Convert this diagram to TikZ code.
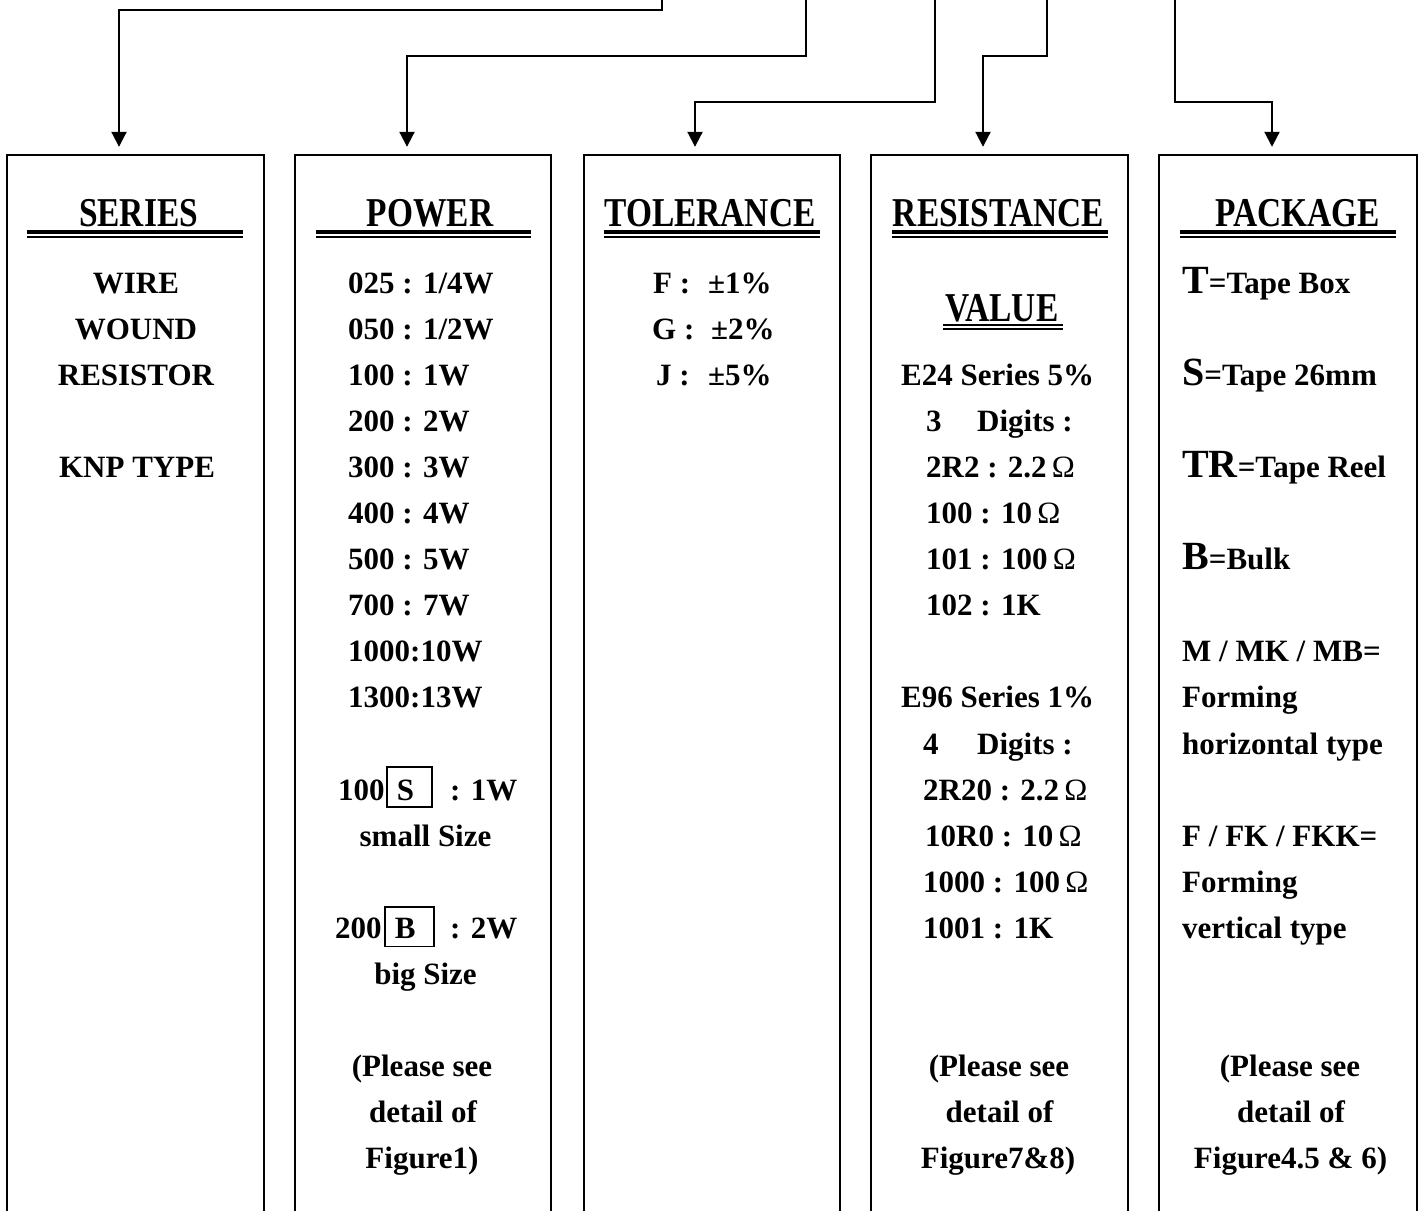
\documentclass[tikz,border=0pt]{standalone}
\usepackage{fontspec}
\setmainfont{Liberation Serif}
\usepackage{graphicx}
\usetikzlibrary{arrows.meta}
\newcommand\bodyfont{\fontsize{31}{31}\selectfont\bfseries}
\newcommand\hdrfont{\fontsize{41}{41}\selectfont\bfseries}
\newcommand\hsq[1]{\scalebox{0.815}[1]{#1}}
\newcommand\ohm{{\mdseries Ω}}
\newcommand\bigltr[1]{{\fontsize{40}{40}\selectfont #1}}
\begin{document}
\begin{tikzpicture}[x=1pt,y=-1pt,
  colbox/.style={draw=none,inner sep=0pt,minimum height=1056pt},
  edge/.style={line width=1.8pt},
  conn/.style={line width=2pt,-{Triangle[length=15pt,width=15pt]},shorten >=8pt},
  body/.style={font=\bodyfont,inner sep=0pt,anchor=base west},
  bodyc/.style={font=\bodyfont,inner sep=0pt,anchor=base},
  hdr/.style={font=\hdrfont,inner sep=0pt,anchor=base},
  ulA/.style={line width=3.2pt},
  ulB/.style={line width=2.3pt},
  ulC/.style={line width=2.1pt},
  keybox/.style={draw,line width=1.6pt,inner sep=0pt,anchor=base west,font=\bodyfont}]
\useasboundingbox (0,0) rectangle (1420,1211);

% column boxes (open at the bottom)
\node[colbox,minimum width=257pt] (b1) at (135.5,683) {};
\node[colbox,minimum width=256pt] (b2) at (423,683) {};
\node[colbox,minimum width=256pt] (b3) at (712,683) {};
\node[colbox,minimum width=257pt] (b4) at (999.5,683) {};
\node[colbox,minimum width=258pt] (b5) at (1288,683) {};
\foreach \b in {b1,b2,b3,b4,b5}
  \draw[edge] (\b.south west) -- (\b.north west) -- (\b.north east) -- (\b.south east);

% connectors
\coordinate (s1) at (662,0);  \coordinate (a1) at (119,0);
\coordinate (s2) at (806,0);  \coordinate (a2) at (407,0);
\coordinate (s3) at (935,0);  \coordinate (a3) at (695,0);
\coordinate (s4) at (1047,0); \coordinate (a4) at (983,0);
\coordinate (s5) at (1175,0); \coordinate (a5) at (1272,0);
\draw[conn] (s1) -- ++(0,10) -| (b1.north -| a1);
\draw[conn] (s2) -- ++(0,56) -| (b2.north -| a2);
\draw[conn] (s3) -- ++(0,102) -| (b3.north -| a3);
\draw[conn] (s4) -- ++(0,56) -| (b4.north -| a4);
\draw[conn] (s5) -- ++(0,102) -| (b5.north -| a5);

% headers
\node[hdr] (h1) at (138.5,226) {\hsq{SERIES}};
\node[hdr] (h2) at (430,226) {\hsq{POWER}};
\node[hdr] (h3) at (710,226) {\hsq{TOLERANCE}};
\node[hdr] (h4) at (998.5,226) {\hsq{RESISTANCE}};
\node[hdr] (h5) at (1297.5,226) {\hsq{PACKAGE}};
\node[hdr] (h4b) at (1002,321) {\hsq{VALUE}};
\foreach \l/\r in {27/243,316/531,604/820,892/1108,1180/1396}{
  \draw[ulA] (\l,232) -- (\r,232);
  \draw[ulB] (\l,237.3) -- (\r,237.3);
}
\draw[ulC] (943,325) -- (1063,325);
\draw[ulC] (943,329.3) -- (1063,329.3);

% SERIES
\node[bodyc] (se1) at (136,293) {WIRE};
\node[bodyc] (se2) at (136,339.1) {WOUND};
\node[bodyc] (se3) at (136,385.2) {RESISTOR};
\node[bodyc] (se4) at (137,477.4) {KNP TYPE};

% POWER
\node[body] (p0) at (348,293) {025 : 1/4W};
\node[body] (p1) at (348,339.1) {050 : 1/2W};
\node[body] (p2) at (348,385.2) {100 : 1W};
\node[body] (p3) at (348,431.3) {200 : 2W};
\node[body] (p4) at (348,477.4) {300 : 3W};
\node[body] (p5) at (348,523.5) {400 : 4W};
\node[body] (p6) at (348,569.6) {500 : 5W};
\node[body] (p7) at (348,615.7) {700 : 7W};
\node[body] (p8) at (348,661.8) {1000:10W};
\node[body] (p9) at (348,707.9) {1300:13W};
\node[body] (p11a) at (338,800.1) {100};
\node[keybox,text height=33pt,text depth=7pt] (p11b) at (386,800.1) {\makebox[45pt][l]{\hspace{10pt}S}};
\node[body] (p11c) at (450,800.1) {: 1W};
\node[bodyc] (p12) at (425.5,846.2) {small Size};
\node[body] (p14a) at (335,938.4) {200};
\node[keybox,text height=31.5pt,text depth=8pt] (p14b) at (384,938.4) {\makebox[49pt][l]{\hspace{10pt}B}};
\node[body] (p14c) at (450,938.4) {: 2W};
\node[bodyc] (p15) at (425.5,984.5) {big Size};
\node[bodyc] (p17) at (422,1076.7) {(Please see};
\node[bodyc] (p18) at (423,1122.8) {detail of};
\node[bodyc] (p19) at (422,1168.9) {Figure1)};

% TOLERANCE
\node[body] (t0a) at (653,293) {F :};
\node[body] (t0b) at (708,293) {±1\%};
\node[body] (t1a) at (652,339.1) {G :};
\node[body] (t1b) at (711,339.1) {±2\%};
\node[body] (t2a) at (656,385.2) {J :};
\node[body] (t2b) at (708,385.2) {±5\%};

% RESISTANCE VALUE
\node[body] (r2) at (901,385.2) {E24 Series 5\%};
\node[body] (r3a) at (926,431.3) {3};
\node[body] (r3b) at (977,431.3) {Digits :};
\node[body] (r4) at (926,477.4) {2R2 : 2.2\,\ohm};
\node[body] (r5) at (926,523.5) {100 : 10\,\ohm};
\node[body] (r6) at (926,569.6) {101 : 100\,\ohm};
\node[body] (r7) at (926,615.7) {102 : 1K};
\node[body] (r9) at (901,707.9) {E96 Series 1\%};
\node[body] (r10a) at (923,754) {4};
\node[body] (r10b) at (977,754) {Digits :};
\node[body] (r11) at (923,800.1) {2R20 : 2.2\,\ohm};
\node[body] (r12) at (925,846.2) {10R0 : 10\,\ohm};
\node[body] (r13) at (923,892.3) {1000 : 100\,\ohm};
\node[body] (r14) at (923,938.4) {1001 : 1K};
\node[bodyc] (r17) at (999,1076.7) {(Please see};
\node[bodyc] (r18) at (999.5,1122.8) {detail of};
\node[bodyc] (r19) at (998,1168.9) {Figure7\&8)};

% PACKAGE
\node[body] (k0) at (1182,293) {\bigltr{T}=Tape Box};
\node[body] (k2) at (1182,385.2) {\bigltr{S}=Tape 26mm};
\node[body] (k4) at (1182,477.4) {\bigltr{TR}=Tape Reel};
\node[body] (k6) at (1182,569.6) {\bigltr{B}=Bulk};
\node[body] (k8) at (1182,661.8) {M / MK / MB=};
\node[body] (k9) at (1182,707.9) {Forming};
\node[body] (k10) at (1182,754) {horizontal type};
\node[body] (k12) at (1182,846.2) {F / FK / FKK=};
\node[body] (k13) at (1182,892.3) {Forming};
\node[body] (k14) at (1182,938.4) {vertical type};
\node[bodyc] (k17) at (1290,1076.7) {(Please see};
\node[bodyc] (k18) at (1291,1122.8) {detail of};
\node[bodyc] (k19) at (1290.5,1168.9) {Figure4.5 \& 6)};
\end{tikzpicture}
\end{document}
